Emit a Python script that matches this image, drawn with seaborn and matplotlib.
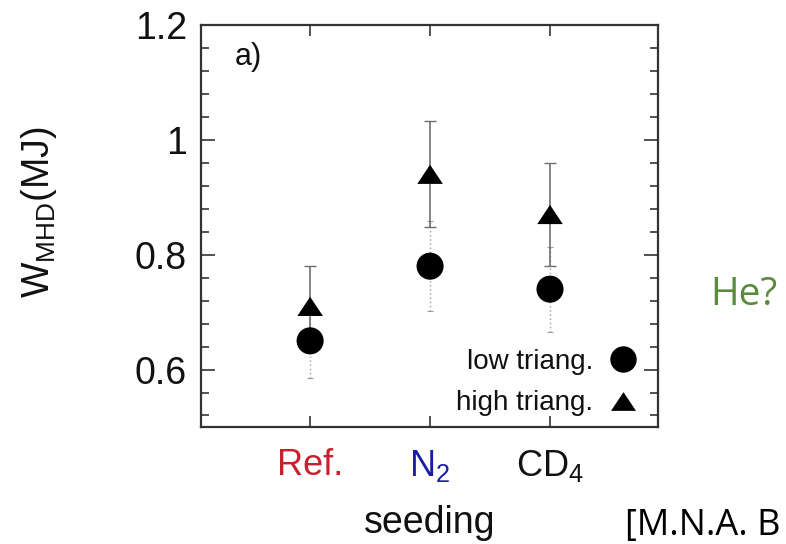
import numpy as np
import pandas as pd
import matplotlib
matplotlib.use("Agg")
import matplotlib.pyplot as plt
import matplotlib.path as mpath
import seaborn as sns
from matplotlib.ticker import MultipleLocator, FuncFormatter
from matplotlib.lines import Line2D

# Seeding cases and their stored energies
categories = ["Ref.", "N$_2$", "CD$_4$"]
category_colors = ["#c8202c", "#1c1ca6", "#111111"]
series = ["low triang.", "high triang."]
low_w = [0.65, 0.78, 0.74]
low_err = [0.065, 0.078, 0.074]
high_w = [0.71, 0.94, 0.87]
high_err = [0.07, 0.092, 0.09]

sns.set_theme(style="ticks")
plt.rcParams["font.family"] = ["Liberation Sans", "DejaVu Sans"]
plt.rcParams["mathtext.fontset"] = "custom"
plt.rcParams["mathtext.rm"] = "Liberation Sans"
plt.rcParams["mathtext.it"] = "Liberation Sans:italic"

pos = np.arange(len(categories))
df = pd.DataFrame({
    "x": np.concatenate([pos, pos]),
    "W": low_w + high_w,
    "series": [series[0]] * len(pos) + [series[1]] * len(pos),
})

# flattened upward triangle
tri = mpath.Path([(-1.0, -0.75), (1.0, -0.75), (0.0, 0.75), (-1.0, -0.75)],
                 [mpath.Path.MOVETO, mpath.Path.LINETO, mpath.Path.LINETO, mpath.Path.CLOSEPOLY])

fig = plt.figure(figsize=(7.86, 5.44), dpi=100)
ax = fig.add_axes([0.2557, 0.2151, 0.5814, 0.7390])

# error bars: dotted for low triangularity, solid for high
eb_low = ax.errorbar(pos, low_w, yerr=low_err, fmt="none", ecolor="#9c9c9c",
                     elinewidth=1.0, capsize=2.5, capthick=0.8, zorder=1)
eb_low[2][0].set_linestyle((0, (1, 2)))
ax.errorbar(pos, high_w, yerr=high_err, fmt="none", ecolor="#6e6e6e",
            elinewidth=1.2, capsize=4.5, capthick=1.0, zorder=1)

sns.scatterplot(data=df, x="x", y="W", style="series", size="series",
                markers={series[0]: "o", series[1]: tri},
                sizes={series[0]: 380, series[1]: 340},
                color="black", edgecolor="none", linewidth=0,
                legend=False, ax=ax, zorder=3)

ax.set_xlim(-0.91, 2.9)
ax.set_ylim(0.5, 1.2)
ax.set_xticks(pos)
ax.set_xticklabels(categories, fontsize=26)
for lab, c in zip(ax.get_xticklabels(), category_colors):
    lab.set_color(c)
ax.yaxis.set_major_locator(MultipleLocator(0.2))
ax.yaxis.set_minor_locator(MultipleLocator(0.04))
ax.yaxis.set_major_formatter(FuncFormatter(lambda v, p: f"{v:g}"))
ax.tick_params(axis="y", which="major", labelsize=27, pad=10, labelcolor="#111111")
ax.tick_params(which="both", direction="in", top=True, right=True, color="#333333")
ax.tick_params(which="major", length=10, width=1.2)
ax.tick_params(which="minor", length=6, width=1.2)
ax.tick_params(axis="x", which="major", length=8, pad=15)

for sp in ax.spines.values():
    sp.set_linewidth(1.6)
    sp.set_color("#333333")

ax.set_xlabel("seeding", fontsize=27, color="#111111")
ax.xaxis.set_label_coords(0.5, -0.195)
ax.set_ylabel(r"W$_{\mathrm{MHD}}$(MJ)", fontsize=27, color="#111111")
ax.yaxis.set_label_coords(-0.31, 0.535)

ax.text(0.074, 0.92, "a)", transform=ax.transAxes, fontsize=22,
        ha="left", va="center", color="#111111")

handles = [
    Line2D([], [], ls="none", marker="o", markersize=19, color="black", mec="none"),
    Line2D([], [], ls="none", marker=tri, markersize=18, color="black", mec="none"),
]
ax.legend(handles, series, loc="lower right", bbox_to_anchor=(0.985, -0.008),
          frameon=False, markerfirst=False, fontsize=20, handlelength=1.0,
          handletextpad=0.6, borderpad=0, labelspacing=0.55,
          labelcolor="#111111")

fig.text(710 / 786, 1 - 295 / 544, "He?", fontsize=28, family="Open Sans",
         color="#5a8a3c", ha="left", va="center")
fig.text(625 / 786, 1 - 535 / 544, "[M.N.A. B", fontsize=26, family="Open Sans",
         color="black", ha="left", va="baseline")

fig.savefig("out.png", dpi=100)
